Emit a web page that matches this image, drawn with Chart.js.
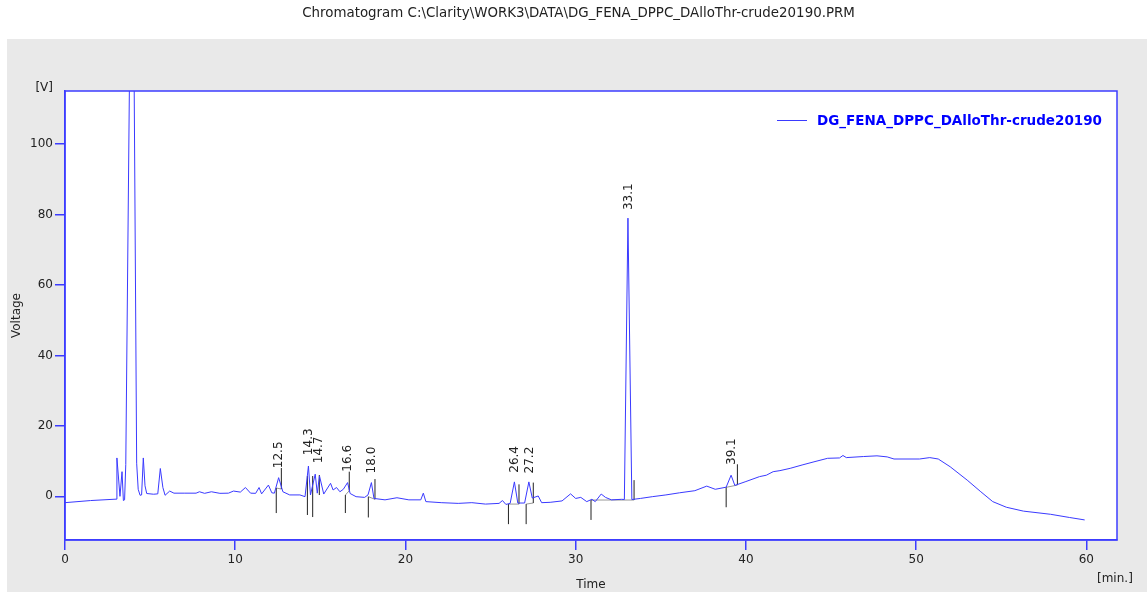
<!DOCTYPE html>
<html>
<head>
<meta charset="utf-8">
<title>Chromatogram</title>
<script src="https://cdn.jsdelivr.net/npm/chart.js@4.4.1/dist/chart.umd.min.js"></script>
<style>
  html, body { margin: 0; padding: 0; background: #fff; }
  #wrap { width: 1147px; height: 592px; }
</style>
</head>
<body>
<div id="wrap"><canvas id="chromChart" width="1147" height="592"></canvas></div>
<script>
const runName = "DG_FENA_DPPC_DAlloThr-crude20190";
const chartTitle = "Chromatogram C:\\Clarity\\WORK3\\DATA\\DG_FENA_DPPC_DAlloThr-crude20190.PRM";

// detector trace: retention time (min) and signal (V)
const timeMin = [
  0, 1.5, 3.0, 3.05, 3.23, 3.35, 3.43, 3.5, 3.57, 3.95, 4.21, 4.3, 4.41, 4.5, 4.6, 4.7, 4.8, 5.2, 5.45, 5.6,
  5.75, 5.88, 6.15, 6.4, 7.0, 7.7, 7.9, 8.2, 8.6, 9.1, 9.6, 9.9, 10.3, 10.6, 10.9, 11.2, 11.4, 11.55, 11.95, 12.15,
  12.3, 12.55, 12.8, 13.2, 13.8, 14.1, 14.3, 14.42, 14.7, 14.82, 14.95, 15.2, 15.6, 15.75, 15.95, 16.15, 16.35, 16.6, 16.75, 17.1,
  17.6, 17.8, 18.0, 18.15, 18.8, 19.5, 20.2, 20.9, 21.05, 21.2, 22.1, 23.1, 23.9, 24.7, 25.5, 25.7, 25.9, 26.15, 26.4, 26.6,
  27.0, 27.25, 27.45, 27.8, 28.0, 28.5, 29.2, 29.7, 30.0, 30.3, 30.65, 30.95, 31.15, 31.5, 31.75, 32.1, 32.7, 32.86, 33.07, 33.3,
  33.8, 34.5, 35.3, 36.1, 37.0, 37.7, 38.2, 38.84, 39.13, 39.35, 40.0, 40.8, 41.2, 41.6, 42.0, 42.6, 43.3, 44.0, 44.8, 45.5,
  45.7, 45.9, 46.9, 47.7, 48.3, 48.7, 50.2, 50.8, 51.3, 52.0, 53.0, 53.8, 54.5, 55.3, 56.3, 57.9, 59.0, 59.9
];
const voltage = [
  -1.8, -1.2, -0.8, 10.9, 0.0, 7.0, -1.2, -1.0, 9.0, 200, 9.4, 2.0, 0.3, 0.4, 10.9, 3.0, 0.8, 0.6, 0.7, 7.9,
  2.5, 0.3, 1.5, 0.9, 0.9, 0.9, 1.3, 0.85, 1.3, 0.85, 0.9, 1.5, 1.2, 2.5, 0.9, 0.85, 2.5, 0.7, 3.2, 1.0,
  0.9, 5.3, 1.3, 0.4, 0.4, -0.1, 8.6, 0.4, 6.3, 0.9, 5.8, 0.65, 3.7, 1.8, 2.5, 1.3, 2.0, 3.9, 0.8, -0.1,
  -0.3, 0.4, 3.9, -0.6, -1.0, -0.4, -1.0, -1.0, 0.9, -1.5, -1.8, -2.0, -1.8, -2.2, -2.0, -1.2, -2.3, -2.0, 4.1, -1.9,
  -1.9, 4.1, -0.5, 0.1, -1.8, -1.7, -1.3, 0.7, -0.6, -0.3, -1.5, -0.85, -1.5, 0.65, -0.3, -1.0, -0.85, -0.9, 79.0, -0.9,
  -0.6, -0.1, 0.4, 1.0, 1.6, 2.9, 2.0, 2.6, 6.0, 3.1, 4.2, 5.6, 6.0, 7.0, 7.3, 7.95, 8.9, 9.8, 10.8, 10.9,
  11.6, 11.0, 11.3, 11.5, 11.2, 10.6, 10.6, 11.0, 10.6, 8.4, 4.6, 1.3, -1.5, -3.1, -4.2, -5.1, -6.0, -6.7
];

// integration marks (peak start / end ticks)
const markTime = [12.41, 12.71, 14.24, 14.55, 14.94, 16.47, 16.7, 17.82, 18.21, 26.05, 26.67, 27.09, 27.51, 30.9, 33.43, 38.84, 39.5];
const markLow  = [-4.75, 2.07, -5.3, -5.88, 0.37, -4.74, 1.6, -6.0, -0.85, -7.9, -2.2, -7.9, -1.9, -6.7, -1.05, -3.1, 3.2];
const markHigh = [2.36, 8.04, 5.77, 5.77, 6.05, 0.37, 7.0, -0.1, 4.9, -2.2, 3.4, -2.2, 3.9, -1.05, 4.6, 2.56, 9.1];

// integration baselines
const baseFromT = [12.41, 16.47, 17.82, 26.05, 27.09, 30.9, 38.84];
const baseFromV = [2.36, 0.37, -0.1, -2.2, -2.2, -1.05, 2.56];
const baseToT   = [12.71, 16.7, 18.21, 26.67, 27.51, 33.43, 39.5];
const baseToV   = [2.07, 1.6, -0.85, -2.2, -1.9, -1.05, 3.2];

// peak retention labels and where their text starts
const peakLabel  = ["12.5", "14.3", "14.7", "16.6", "18.0", "26.4", "27.2", "33.1", "39.1"];
const peakLabelT = [12.57, 14.33, 14.92, 16.64, 18.0, 26.44, 27.28, 33.15, 39.17];
const peakLabelV = [8.0, 11.7, 9.4, 7.0, 6.5, 6.7, 6.5, 81.3, 8.9];

const xTicks = [0, 10, 20, 30, 40, 50, 60];
const yTicks = [0, 20, 40, 60, 80, 100];

const axisBlue = "#3c3cff";
const traceBlue = "#3a3aff";
const labelFont = "12px 'DejaVu Sans'";

const tracePoints = timeMin.map((t, i) => ({ x: t, y: voltage[i] }));
const markPoints = markTime.flatMap((t, i) => [
  { x: t, y: markLow[i] }, { x: t, y: markHigh[i] }, { x: t, y: null }
]);
const basePoints = baseFromT.flatMap((t, i) => [
  { x: t, y: baseFromV[i] }, { x: baseToT[i], y: baseToV[i] }, { x: baseToT[i], y: null }
]);

const chromDecor = {
  id: "chromDecor",
  beforeDraw(chart) {
    const { ctx, chartArea: a } = chart;
    ctx.save();
    ctx.fillStyle = "#ffffff";
    ctx.fillRect(0, 0, chart.width, chart.height);
    ctx.fillStyle = "#e9e9e9";
    ctx.fillRect(7, 39, chart.width - 7, chart.height - 39);
    ctx.fillStyle = "#ffffff";
    ctx.fillRect(a.left, a.top, a.right - a.left, a.bottom - a.top);

    ctx.fillStyle = "#222";
    ctx.font = "13.4px 'DejaVu Sans'";
    ctx.textAlign = "center";
    ctx.textBaseline = "middle";
    ctx.fillText(chartTitle, 578.5, 14);
    ctx.restore();
  },
  afterDatasetsDraw(chart) {
    const { ctx, chartArea: a, scales } = chart;
    ctx.save();
    // frame
    ctx.strokeStyle = axisBlue;
    ctx.lineWidth = 1.5;
    ctx.strokeRect(a.left, a.top, a.right - a.left, a.bottom - a.top);

    // peak labels, rotated
    ctx.fillStyle = "#222";
    ctx.font = labelFont;
    ctx.textAlign = "left";
    ctx.textBaseline = "middle";
    peakLabel.forEach((txt, i) => {
      const px = scales.x.getPixelForValue(peakLabelT[i]);
      const py = scales.y.getPixelForValue(peakLabelV[i]);
      ctx.save();
      ctx.translate(px, py);
      ctx.rotate(-Math.PI / 2);
      ctx.fillText(txt, 0, 0);
      ctx.restore();
    });

    // legend
    ctx.strokeStyle = traceBlue;
    ctx.lineWidth = 1;
    ctx.beginPath();
    ctx.moveTo(777, 120.5);
    ctx.lineTo(807, 120.5);
    ctx.stroke();
    ctx.fillStyle = "#0000ff";
    ctx.font = "bold 13.5px 'DejaVu Sans'";
    ctx.fillText(chart.data.datasets[0].label, 817, 121.5);

    // unit labels
    ctx.fillStyle = "#222";
    ctx.font = labelFont;
    ctx.textAlign = "right";
    ctx.fillText("[V]", 53, 88);
    ctx.textAlign = "left";
    ctx.fillText("[min.]", 1097, 579);
    ctx.restore();
  }
};

new Chart(document.getElementById("chromChart"), {
  type: "scatter",
  data: {
    datasets: [
      {
        label: runName,
        data: tracePoints,
        showLine: true,
        borderColor: traceBlue,
        borderWidth: 1,
        pointRadius: 0,
        tension: 0
      },
      {
        label: "marks",
        data: markPoints,
        showLine: true,
        spanGaps: false,
        borderColor: "#222",
        borderWidth: 1,
        pointRadius: 0
      },
      {
        label: "baselines",
        data: basePoints,
        showLine: true,
        spanGaps: false,
        borderColor: "#999",
        borderWidth: 1,
        pointRadius: 0
      }
    ]
  },
  options: {
    responsive: false,
    animation: false,
    layout: { padding: { top: 91, right: 30, left: 0, bottom: 0 } },
    plugins: {
      legend: { display: false },
      title: { display: false },
      tooltip: { enabled: false }
    },
    scales: {
      x: {
        type: "linear",
        min: 0,
        max: 61.8,
        afterBuildTicks: scale => { scale.ticks = xTicks.map(v => ({ value: v })); },
        afterFit: scale => { scale.height = 52; },
        grid: { drawOnChartArea: false, drawTicks: true, tickLength: 10, color: axisBlue, lineWidth: 1.5 },
        border: { display: true, color: axisBlue, width: 1.5 },
        ticks: { color: "#222", font: { family: "DejaVu Sans", size: 12 }, padding: 3, maxRotation: 0 },
        title: { display: true, text: "Time", color: "#222", font: { family: "DejaVu Sans", size: 12 }, padding: 0 }
      },
      y: {
        type: "linear",
        min: -12.4,
        max: 115.1,
        afterBuildTicks: scale => { scale.ticks = yTicks.map(v => ({ value: v })); },
        afterFit: scale => { scale.width = 65; },
        grid: { drawOnChartArea: false, drawTicks: true, tickLength: 10, color: axisBlue, lineWidth: 1.5 },
        border: { display: true, color: axisBlue, width: 1.5 },
        ticks: { color: "#222", font: { family: "DejaVu Sans", size: 12 }, padding: 2 },
        title: { display: true, text: "Voltage", color: "#222", font: { family: "DejaVu Sans", size: 12 }, padding: { top: 10, bottom: 0 } }
      }
    }
  },
  plugins: [chromDecor]
});
</script>
</body>
</html>
